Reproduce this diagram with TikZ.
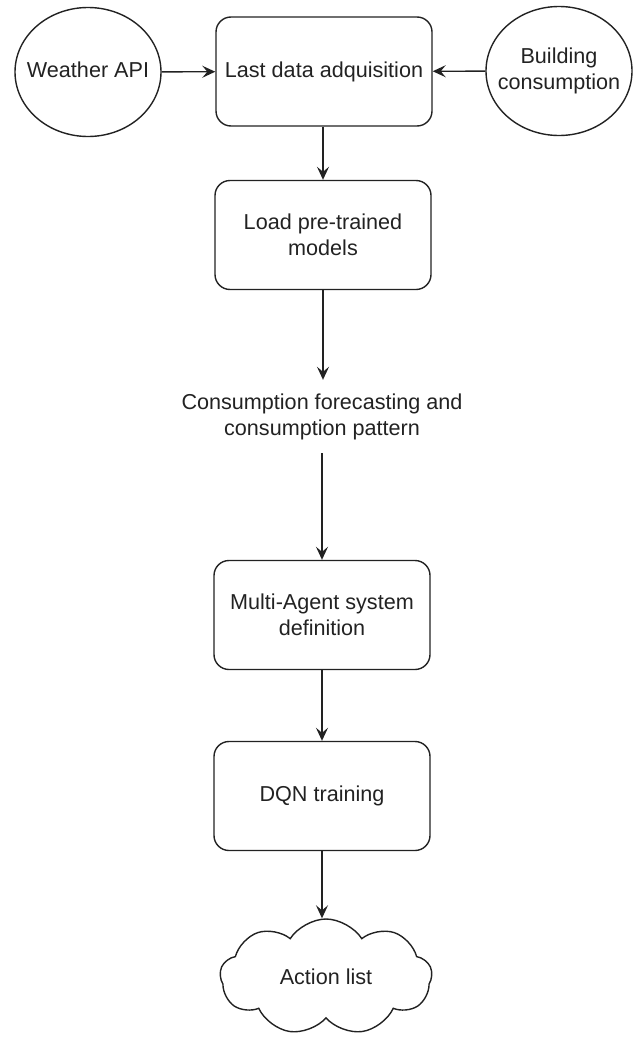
\documentclass[tikz,border=0pt]{standalone}
\usepackage{fontspec}
\setmainfont{Liberation Sans}
\usetikzlibrary{shapes.geometric,shapes.symbols,arrows.meta}
\definecolor{ink}{HTML}{222222}
\newcommand{\zbox}[1]{\makebox[0pt][c]{\begin{tabular}{@{}c@{}}#1\end{tabular}}}
\begin{document}
\begin{tikzpicture}[x=1pt,y=-1pt,
  every node/.style={font=\fontsize{21.6}{26}\selectfont, text=ink, align=center},
  boxnode/.style={draw=ink, line width=1.4pt, rounded corners=15pt, minimum width=216pt, minimum height=109pt, inner sep=2pt},
  ellnode/.style={draw=ink, line width=1.4pt, ellipse, minimum width=146pt, minimum height=129pt, inner sep=0pt},
  cloudnode/.style={draw=ink, line width=1.4pt, cloud, cloud puffs=9, cloud puff arc=115, aspect=1.8, minimum width=212pt, minimum height=116pt, inner sep=0pt},
  plainnode/.style={inner sep=0pt, minimum height=73pt},
  conn/.style={draw=ink, line width=1.4pt, -{Stealth[length=13pt,width=12pt,inset=5pt]}}]
\useasboundingbox (0,0) rectangle (638,1044);
\node[ellnode] (weather) at (88,72) {\zbox{Weather API}};
\node[boxnode] (last) at (324,71.5) {Last data adquisition};
\node[ellnode] (building) at (559,71) {\zbox{Building\\consumption}};
\node[boxnode] (load) at (323,235) {Load pre-trained\\models};
\node[plainnode] (cons) at (322,416.5) {Consumption forecasting and\\consumption pattern};
\node[boxnode] (multi) at (322,615) {Multi-Agent system\\definition};
\node[boxnode] (dqn) at (322,796) {DQN training};
\node[cloudnode] (action) at (326,977) {Action list};
\draw[conn] (weather) -- (last);
\draw[conn] (building) -- (last);
\draw[conn] (last.south -| load.north) -- (load.north);
\draw[conn] (load.south) -- (load.south |- cons.north);
\draw[conn] (cons.south) -- (multi.north);
\draw[conn] (multi.south) -- (dqn.north);
\draw[conn] (dqn.south) -- (dqn.south |- action.north);
\end{tikzpicture}
\end{document}
